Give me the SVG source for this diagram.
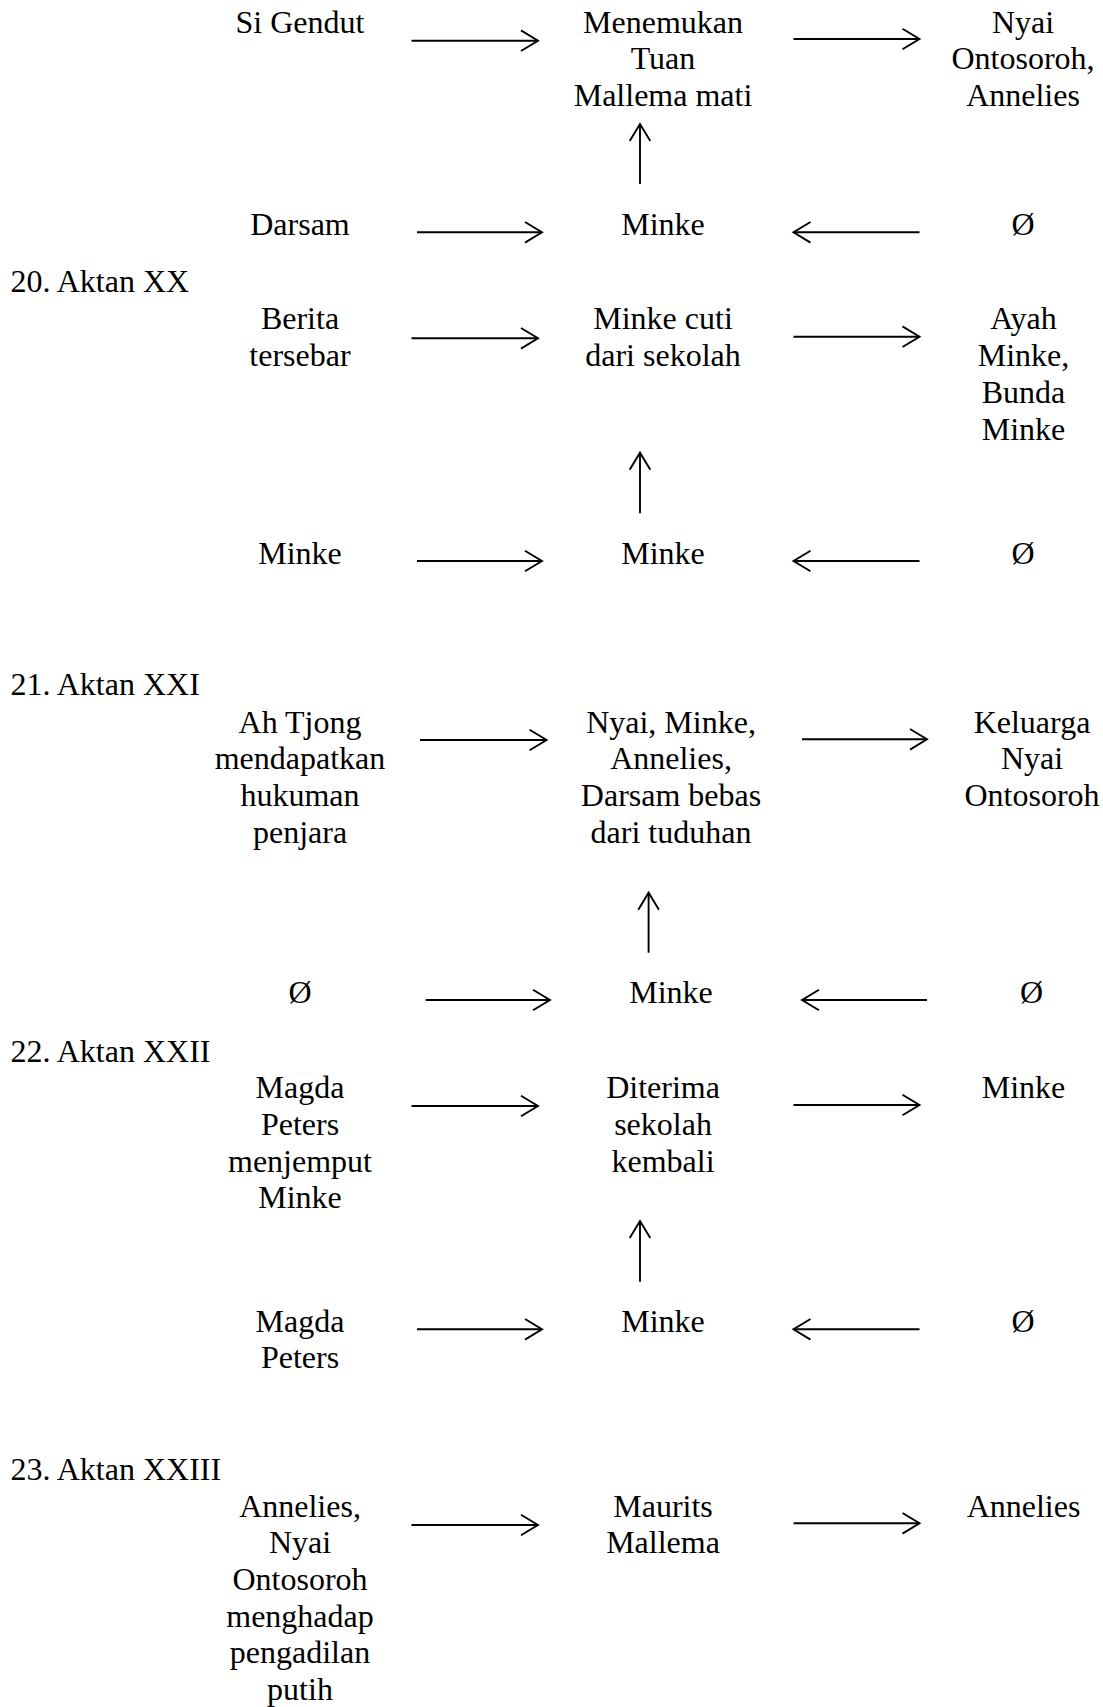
<svg xmlns="http://www.w3.org/2000/svg" width="1103" height="1707" viewBox="0 0 1103 1707">
<defs>
<style>
text{font-family:"Liberation Serif","Times New Roman",serif;font-size:32px;fill:#000}
.c{text-anchor:middle}
.h{text-anchor:start}
.ln{stroke:#000;stroke-width:1.9;fill:none}
</style>
<marker id="ah" markerUnits="userSpaceOnUse" markerWidth="26" markerHeight="26" viewBox="-20 -13 26 26" refX="0" refY="0" orient="auto">
<path d="M-17,-10.3 L0,0 L-17,10.3" fill="none" stroke="#000" stroke-width="1.9"/>
</marker>
</defs>
<rect width="1103" height="1707" fill="#fff"/>

<!-- Block 19 (continued) -->
<g id="b19-subject"><text class="c" x="300" y="33">Si Gendut</text></g>
<g id="b19-object"><text class="c" x="663" y="32.5">Menemukan</text><text class="c" x="663" y="69">Tuan</text><text class="c" x="663" y="106">Mallema mati</text></g>
<g id="b19-receiver"><text class="c" x="1023" y="32.5">Nyai</text><text class="c" x="1023" y="69">Ontosoroh,</text><text class="c" x="1023" y="106">Annelies</text></g>
<g id="b19-helper"><text class="c" x="300" y="235">Darsam</text></g>
<g id="b19-actor"><text class="c" x="663" y="235">Minke</text></g>
<g id="b19-opponent"><text class="c" x="1023" y="235">Ø</text></g>

<!-- Block 20 -->
<g id="h20"><text class="h" x="10.5" y="292.3">20. Aktan XX</text></g>
<g id="b20-subject"><text class="c" x="300" y="329.3">Berita</text><text class="c" x="300" y="366">tersebar</text></g>
<g id="b20-object"><text class="c" x="663" y="329.3">Minke cuti</text><text class="c" x="663" y="366">dari sekolah</text></g>
<g id="b20-receiver"><text class="c" x="1023.5" y="329.3">Ayah</text><text class="c" x="1023.5" y="366">Minke,</text><text class="c" x="1023.5" y="402.7">Bunda</text><text class="c" x="1023.5" y="439.7">Minke</text></g>
<g id="b20-helper"><text class="c" x="300" y="564">Minke</text></g>
<g id="b20-actor"><text class="c" x="663" y="564">Minke</text></g>
<g id="b20-opponent"><text class="c" x="1023" y="564">Ø</text></g>

<!-- Block 21 -->
<g id="h21"><text class="h" x="10.5" y="695">21. Aktan XXI</text></g>
<g id="b21-subject"><text class="c" x="300" y="732.7">Ah Tjong</text><text class="c" x="300" y="769.3">mendapatkan</text><text class="c" x="300" y="806">hukuman</text><text class="c" x="300" y="842.7">penjara</text></g>
<g id="b21-object"><text class="c" x="671" y="732.7">Nyai, Minke,</text><text class="c" x="671" y="769.3">Annelies,</text><text class="c" x="671" y="806">Darsam bebas</text><text class="c" x="671" y="842.7">dari tuduhan</text></g>
<g id="b21-receiver"><text class="c" x="1032" y="732.7">Keluarga</text><text class="c" x="1032" y="769.3">Nyai</text><text class="c" x="1032" y="806">Ontosoroh</text></g>
<g id="b21-helper"><text class="c" x="300" y="1003.3">Ø</text></g>
<g id="b21-actor"><text class="c" x="671" y="1003.3">Minke</text></g>
<g id="b21-opponent"><text class="c" x="1031.5" y="1003.3">Ø</text></g>

<!-- Block 22 -->
<g id="h22"><text class="h" x="10.5" y="1061.7">22. Aktan XXII</text></g>
<g id="b22-subject"><text class="c" x="300" y="1098.3">Magda</text><text class="c" x="300" y="1135">Peters</text><text class="c" x="300" y="1171.7">menjemput</text><text class="c" x="300" y="1208.3">Minke</text></g>
<g id="b22-object"><text class="c" x="663" y="1098.3">Diterima</text><text class="c" x="663" y="1135">sekolah</text><text class="c" x="663" y="1171.7">kembali</text></g>
<g id="b22-receiver"><text class="c" x="1023.5" y="1098.3">Minke</text></g>
<g id="b22-helper"><text class="c" x="300" y="1331.7">Magda</text><text class="c" x="300" y="1368.3">Peters</text></g>
<g id="b22-actor"><text class="c" x="663" y="1331.7">Minke</text></g>
<g id="b22-opponent"><text class="c" x="1023" y="1331.7">Ø</text></g>

<!-- Block 23 -->
<g id="h23"><text class="h" x="10.5" y="1480">23. Aktan XXIII</text></g>
<g id="b23-subject"><text class="c" x="300" y="1516.7">Annelies,</text><text class="c" x="300" y="1553.3">Nyai</text><text class="c" x="300" y="1590">Ontosoroh</text><text class="c" x="300" y="1626.7">menghadap</text><text class="c" x="300" y="1663.3">pengadilan</text><text class="c" x="300" y="1700">putih</text></g>
<g id="b23-object"><text class="c" x="663" y="1516.7">Maurits</text><text class="c" x="663" y="1553.3">Mallema</text></g>
<g id="b23-receiver"><text class="c" x="1023.5" y="1516.7">Annelies</text></g>

<g id="connectors" class="ln" marker-end="url(#ah)">
<!-- block 19 -->
<line x1="411.5" y1="40.7" x2="538" y2="40.7"/>
<line x1="793.5" y1="39" x2="919.5" y2="39"/>
<line x1="640" y1="184" x2="640" y2="124"/>
<line x1="417" y1="232.3" x2="542" y2="232.3"/>
<line x1="919.5" y1="232.3" x2="793.5" y2="232.3"/>
<!-- block 20 -->
<line x1="411.5" y1="338.3" x2="538" y2="338.3"/>
<line x1="793.5" y1="336.7" x2="919.5" y2="336.7"/>
<line x1="640" y1="513.3" x2="640" y2="452.7"/>
<line x1="417" y1="561" x2="542" y2="561"/>
<line x1="919.5" y1="561" x2="793.5" y2="561"/>
<!-- block 21 -->
<line x1="420" y1="740" x2="546.6" y2="740"/>
<line x1="802" y1="739.3" x2="927" y2="739.3"/>
<line x1="648.6" y1="952.7" x2="648.6" y2="892.7"/>
<line x1="425.6" y1="1000" x2="550" y2="1000"/>
<line x1="927" y1="1000" x2="802" y2="1000"/>
<!-- block 22 -->
<line x1="411.5" y1="1106" x2="538" y2="1106"/>
<line x1="793.5" y1="1105" x2="919.5" y2="1105"/>
<line x1="640" y1="1281.7" x2="640" y2="1221"/>
<line x1="417" y1="1329.3" x2="542" y2="1329.3"/>
<line x1="919.5" y1="1329.3" x2="793.5" y2="1329.3"/>
<!-- block 23 -->
<line x1="411.5" y1="1525" x2="538" y2="1525"/>
<line x1="793.5" y1="1523.3" x2="919.5" y2="1523.3"/>
</g>
</svg>
